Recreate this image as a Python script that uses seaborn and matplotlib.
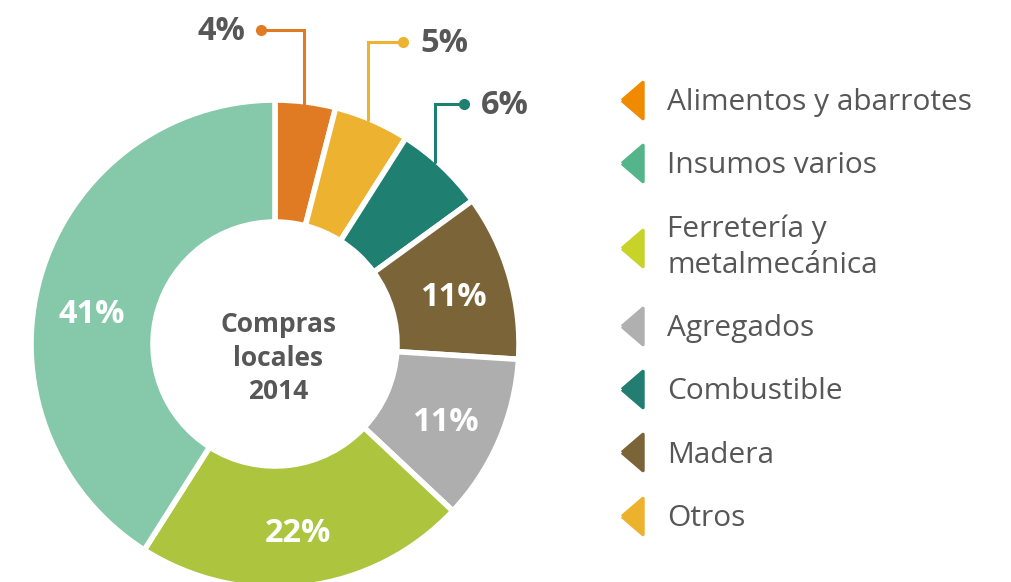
import numpy as np
import matplotlib
matplotlib.use("Agg")
import matplotlib.pyplot as plt
from matplotlib.lines import Line2D
from matplotlib.markers import MarkerStyle
import seaborn as sns

# ---------------- data ----------------
slice_names = ["Alimentos y abarrotes", "Otros", "Combustible", "Madera",
               "Agregados", "Ferretería y\nmetalmecánica", "Insumos varios"]
slice_values = [4, 5, 6, 11, 11, 22, 41]
slice_colors = ["#E07B24", "#EDB230", "#1F7F70", "#7B6538",
                "#AEAEAE", "#ADC43F", "#86C9AA"]

legend_names = ["Alimentos y abarrotes", "Insumos varios", "Ferretería y\nmetalmecánica",
                "Agregados", "Combustible", "Madera", "Otros"]
legend_colors = ["#F08A00", "#55B58A", "#C8D32A", "#B0B0B0", "#227E70", "#7B6538", "#ECB22E"]

center_title = "Compras\nlocales\n2014"

# ---------------- style ----------------
sns.set_theme(style="white")
plt.rcParams["font.family"] = ["Open Sans", "DejaVu Sans"]
TEXT = "#575757"

W, H = 1011, 582
fig = plt.figure(figsize=(W / 100, H / 100), dpi=100)
ax = fig.add_axes([0, 0, 1, 1])

cx, cy = 275, H - 344
R, r_in = 244, 122

wedges, _ = ax.pie(slice_values, colors=slice_colors, startangle=90, counterclock=False,
                   radius=R, center=(cx, cy), frame=True,
                   wedgeprops=dict(width=R - r_in, edgecolor="white", linewidth=4))
ax.set_xlim(0, W)
ax.set_ylim(0, H)
ax.set_aspect("equal")
ax.axis("off")

# center title
ax.text(cx + 3, cy - 14, center_title, ha="center", va="center", fontsize=19,
        fontweight="bold", color=TEXT, linespacing=1.3)

# percentage labels
mid_r = (R + r_in) / 2 + 3
angle_adjust = {6: 5.5}
outside = {0: (552, -43), 1: (540, 35), 2: (478, 29)}  # elbow height, arm length
PCT_FS = 23.5
for i, (w, v) in enumerate(zip(wedges, slice_values)):
    mid = np.deg2rad((w.theta1 + w.theta2) / 2 + angle_adjust.get(i, 0))
    lab = f"{v}%"
    if i in outside:
        ly, arm = outside[i]
        lx = cx + R * 0.96 * np.cos(mid)
        ybot = cy + np.sqrt(R**2 - (lx - cx) ** 2) - 2
        ex = lx + arm
        ax.plot([lx, lx, ex], [ybot, ly, ly], color=slice_colors[i], lw=2.2,
                solid_joinstyle="miter", zorder=3)
        ax.plot([ex], [ly], "o", color=slice_colors[i], ms=7, zorder=4)
        if arm < 0:
            ax.text(ex - 16, ly - 2, lab, ha="right", va="center", fontsize=PCT_FS,
                    fontweight="bold", color=TEXT)
        else:
            ax.text(ex + 17, ly - 2, lab, ha="left", va="center", fontsize=PCT_FS,
                    fontweight="bold", color=TEXT)
    else:
        tx = cx + mid_r * np.cos(mid)
        ty = cy + mid_r * np.sin(mid) - 5
        ax.text(tx, ty, lab, ha="center", va="center", fontsize=PCT_FS,
                fontweight="bold", color="white")

# legend
tri = [(-0.58, 0), (0.58, -1), (0.58, 1), (-0.58, 0)]
mstyle = MarkerStyle(tri, joinstyle="round")
handles = [Line2D([0], [0], linestyle="none", marker=mstyle, markersize=26,
                  markerfacecolor=c, markeredgecolor=c, markeredgewidth=2.5)
           for c in legend_colors]
leg = fig.legend(handles, legend_names, loc="upper left", bbox_to_anchor=(619 / W, 1 - 88 / H),
                 frameon=False, fontsize=21.5, labelcolor=TEXT, handlelength=0.9,
                 handletextpad=0.72, labelspacing=1.15, borderaxespad=0, borderpad=0)
for t in leg.get_texts():
    t.set_linespacing(1.3)

fig.savefig("out.png", dpi=100)
